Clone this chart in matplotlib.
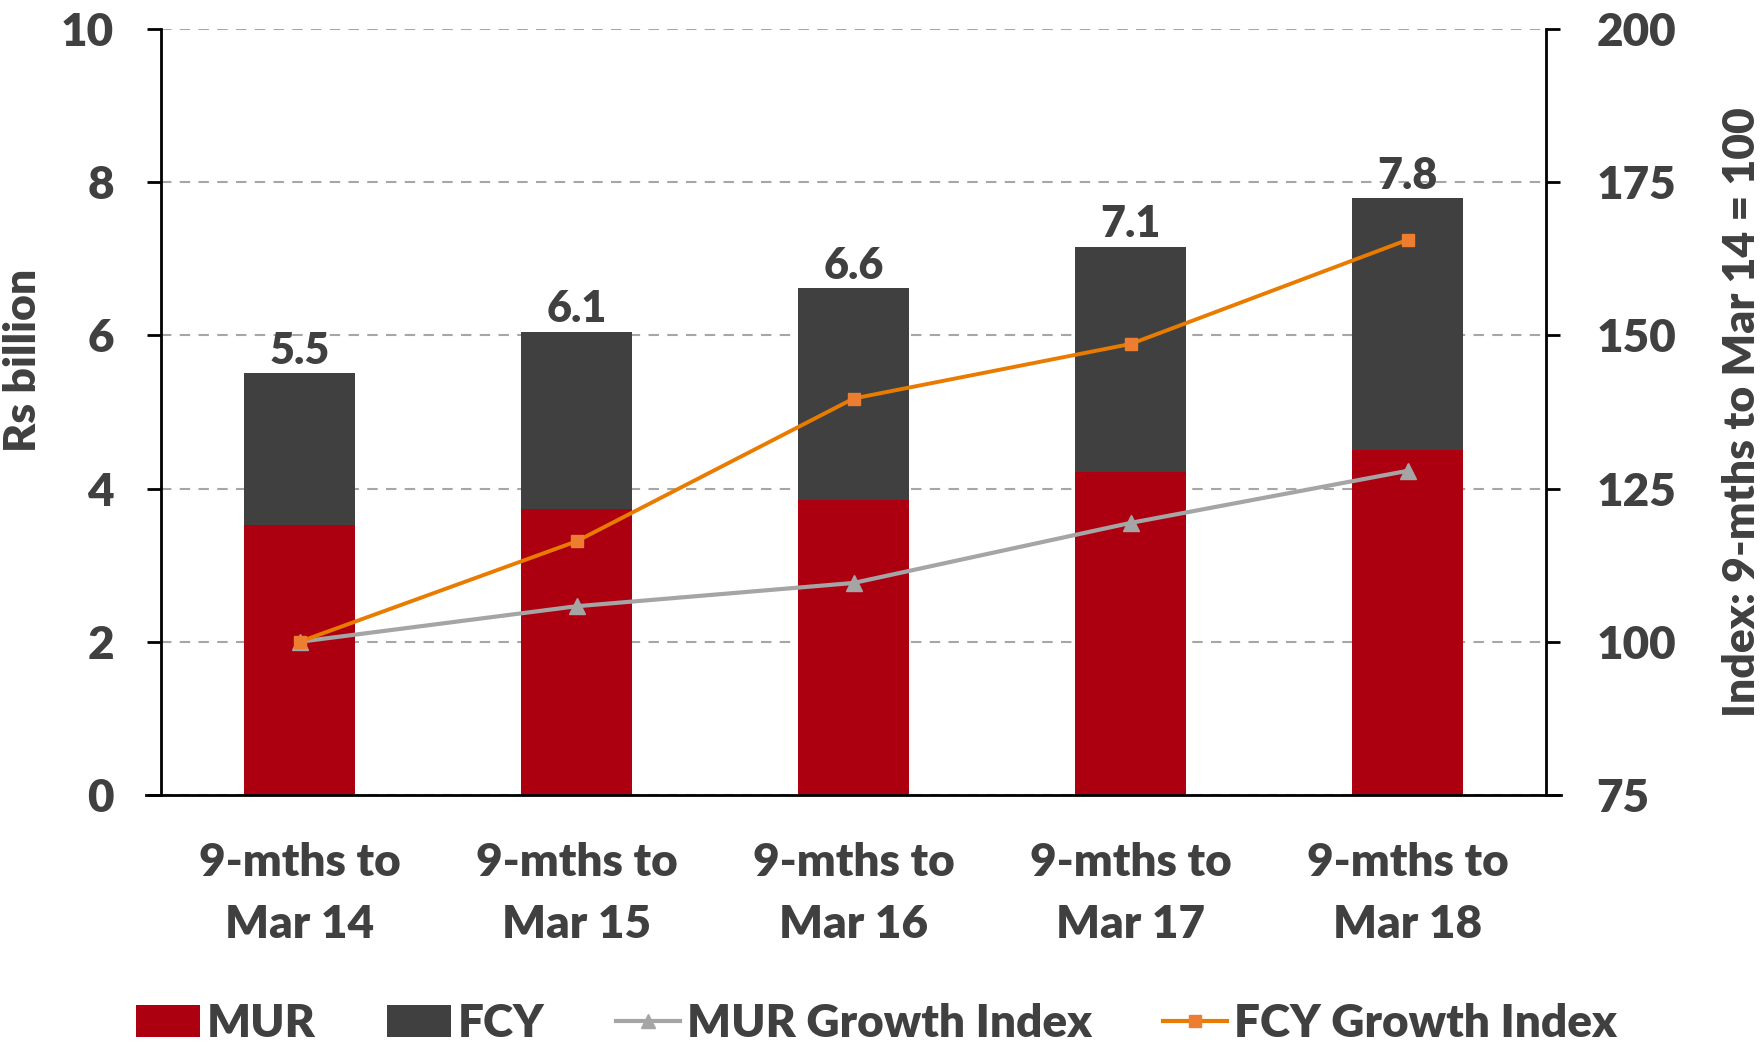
import matplotlib.pyplot as plt
from matplotlib.lines import Line2D
from matplotlib.patches import Patch

# data
periods = ['9-mths to\nMar 14', '9-mths to\nMar 15', '9-mths to\nMar 16',
           '9-mths to\nMar 17', '9-mths to\nMar 18']
mur = [3.52, 3.73, 3.85, 4.21, 4.51]
fcy = [1.99, 2.32, 2.77, 2.95, 3.28]
total_labels = ['5.5', '6.1', '6.6', '7.1', '7.8']
mur_index = [100, 105.8, 109.6, 119.4, 127.9]
fcy_index = [100, 116.4, 139.7, 148.6, 165.6]

text_col = '#404040'
red = '#ac0010'
dark = '#404040'
grey = '#a5a5a5'
orange = '#e97c00'
orange_mk = '#ed7d31'

plt.rcParams['font.family'] = ['Lato', 'DejaVu Sans']
plt.rcParams['font.weight'] = 'heavy'

fig = plt.figure(figsize=(17.6, 10.43), dpi=100)
ax = fig.add_axes([0.0915, 0.2378, 0.787, 0.7344])
ax2 = ax.twinx()

x = range(len(periods))
ax.bar(x, mur, width=0.4, color=red, zorder=2)
ax.bar(x, fcy, width=0.4, bottom=mur, color=dark, zorder=2)

for i in x:
    ax.text(i, mur[i] + fcy[i] + 0.03, total_labels[i], ha='center', va='bottom',
            fontsize=31, fontweight='heavy', color=text_col)

ax.set_xlim(-0.5, 4.5)
ax.set_ylim(0, 10)
ax.set_yticks([0, 2, 4, 6, 8, 10])
ax.yaxis.grid(True, linestyle=(0, (5, 4)), color='#a6a6a6', linewidth=1.5, zorder=0)
ax.set_axisbelow(True)
ax.set_xticks(list(x))
ax.set_xticklabels(periods, linespacing=1.6)
ax.tick_params(axis='x', length=0, pad=34, labelsize=33, labelcolor=text_col)
ax.tick_params(axis='y', length=10, width=2, pad=24, labelsize=33, labelcolor=text_col)
ax.set_ylabel('Rs billion', fontsize=32, fontweight='heavy', color=text_col)
ax.yaxis.set_label_coords(-0.085, 0.567)

ax2.plot(x, mur_index, color=grey, linewidth=3, marker='^', markersize=11,
         markerfacecolor=grey, markeredgecolor=grey, zorder=3)
ax2.plot(x, fcy_index, color=orange, linewidth=2.8, marker='s', markersize=8,
         markerfacecolor=orange_mk, markeredgecolor=orange_mk, zorder=3)
ax2.set_ylim(75, 200)
ax2.set_yticks([75, 100, 125, 150, 175, 200])
ax2.tick_params(axis='y', length=10, width=2, pad=26, labelsize=33, labelcolor=text_col)
ax2.set_ylabel('Index: 9-mths to Mar 14 = 100', fontsize=32, fontweight='heavy',
               color=text_col, rotation=90)
ax2.yaxis.set_label_coords(1.127, 0.5)

for a in (ax, ax2):
    for s in a.spines.values():
        s.set_visible(False)
ax.spines['left'].set_visible(True)
ax.spines['left'].set_linewidth(2)
ax2.spines['right'].set_visible(True)
ax2.spines['right'].set_linewidth(2)
ax.axhline(0, xmin=-0.011, xmax=1.011, color='black', linewidth=2, clip_on=False, zorder=4)

handles = [
    Patch(facecolor=red),
    Patch(facecolor=dark),
    Line2D([], [], color=grey, linewidth=3, marker='^', markersize=10),
    Line2D([], [], color=orange, linewidth=3, marker='s', markersize=8,
           markerfacecolor=orange_mk, markeredgecolor=orange_mk),
]
fig.legend(handles, ['MUR', 'FCY', 'MUR Growth Index', 'FCY Growth Index'],
           loc='center', bbox_to_anchor=(0.498, 0.019), ncol=4, frameon=False,
           fontsize=33, labelcolor=text_col, handlelength=1.4, handleheight=0.7,
           handletextpad=0.15, columnspacing=1.55)

fig.savefig('out.png', dpi=100, facecolor='white')
